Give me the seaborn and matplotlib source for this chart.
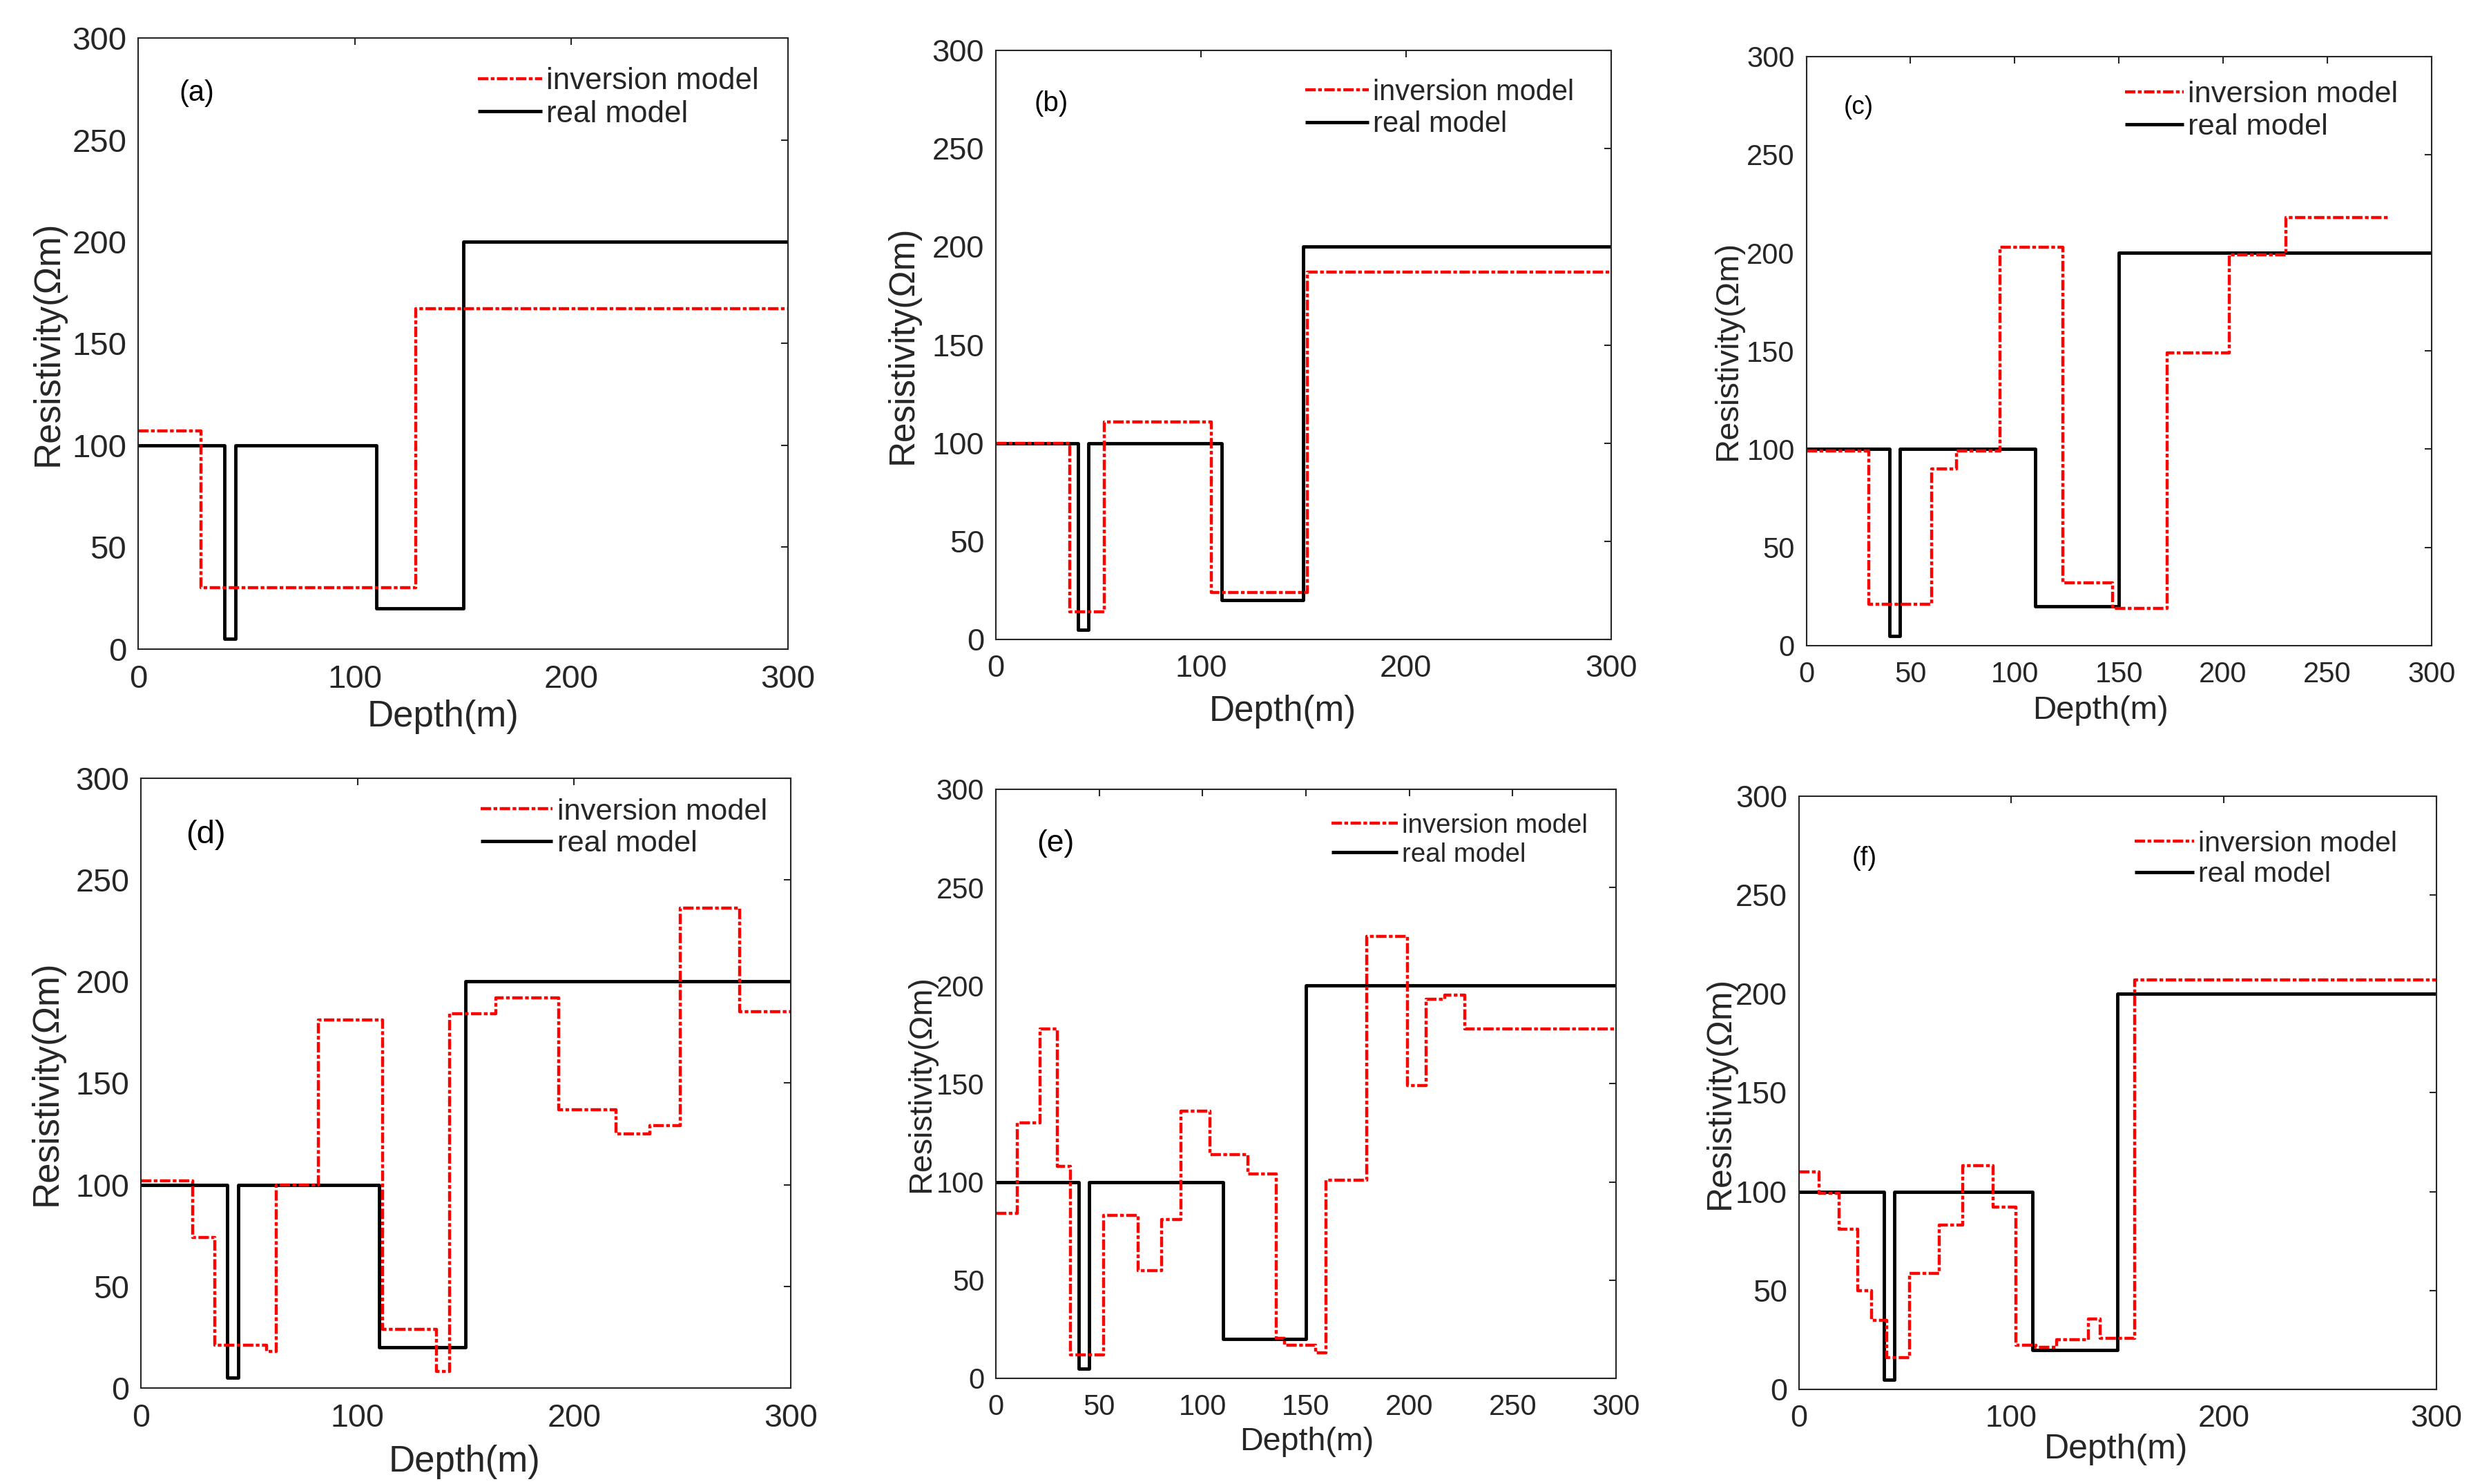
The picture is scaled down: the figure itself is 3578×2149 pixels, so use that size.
import numpy as np
import pandas as pd
import matplotlib
matplotlib.use('Agg')
import matplotlib.pyplot as plt
import seaborn as sns

# real (true) layered model, same in all six panels
real_depth = [0, 40, 45, 110, 150, 300]
real_res = [100, 5, 100, 20, 200, 200]

# inversion results, step boundaries (m) and resistivity (Ohm m)
inv_depth_a = [0, 29, 128, 300]
inv_res_a = [107, 30, 167, 167]

inv_depth_b = [0, 36, 53, 105, 152, 300]
inv_res_b = [100, 14, 111, 24, 187, 187]

inv_depth_c = [0, 30, 60, 72, 93, 123, 147, 173, 203, 230, 280]
inv_res_c = [99, 21, 90, 99, 203, 32, 19, 149, 199, 218, 218]

inv_depth_d = [0, 24, 34, 58, 62.5, 82, 111.5, 136.5, 142.5, 164, 193, 219.5, 235, 249, 276.5, 300]
inv_res_d = [102, 74, 21, 18, 100, 181, 29, 8, 184, 192, 137, 125, 129, 236, 185, 185]

inv_depth_e = [0, 10.3, 21.4, 29.6, 36.2, 52.1, 68.8, 80.3, 89.6, 103.6, 121.8, 135.8, 139.6,
               154.6, 159.6, 179.3, 199, 208, 217, 227, 300]
inv_res_e = [84, 130, 178, 108, 12, 83, 55, 81, 136, 114, 104, 20.5, 16.7,
             12.9, 101, 225, 149, 193, 195, 178, 178]

inv_depth_f = [0, 9.5, 19, 27.7, 34.2, 41.3, 52.2, 66, 77.2, 91.3, 102.2, 111.4, 121.2, 136.2, 141.8, 158, 300]
inv_res_f = [110, 99, 81, 50, 35, 16, 58.5, 83, 113, 92, 22.5, 21.4, 25, 35.7, 26, 207, 207]

panel_names = ['(a)', '(b)', '(c)', '(d)', '(e)', '(f)']
inv_depths = [inv_depth_a, inv_depth_b, inv_depth_c, inv_depth_d, inv_depth_e, inv_depth_f]
inv_ress = [inv_res_a, inv_res_b, inv_res_c, inv_res_d, inv_res_e, inv_res_f]

# layout / styling per panel (not data)
rects = [[0.0559, 0.5626, 0.263, 0.4118],
         [0.403, 0.569, 0.249, 0.397],
         [0.731, 0.565, 0.253, 0.397],
         [0.057, 0.0647, 0.263, 0.411],
         [0.403, 0.0712, 0.251, 0.397],
         [0.728, 0.0637, 0.258, 0.400]]
xstep = [100, 100, 50, 100, 50, 100]
tick_fs = [17, 16.3, 15, 16.8, 15, 16.2]
lab_fs = [19, 18.4, 17, 19, 16.8, 18]
leg_fs = [15.8, 15, 15.6, 15.6, 13.8, 14.8]
let_fs = [15, 14.5, 13.3, 17, 16, 13.8]
let_xy = [(27, 273), (27, 273), (25, 274), (30, 272), (29, 272.5), (30.7, 268.5)]
leg_xy = [(157, 270.7), (151, 270.5), (153, 272.2), (157, 275.5), (162.5, 274), (158, 268.1)]
leg_hl = [2.1, 2.2, 1.95, 2.4, 2.5, 2.1]
ylab_x = [-0.112, -0.124, -0.101, -0.118, -0.096, -0.099]
xlab_xy = [(0.469, -0.083), (0.466, -0.093), (0.471, -0.085),
           (0.498, -0.093), (0.501, -0.082), (0.498, -0.074)]

sns.set_theme(style='white')
plt.rcParams['font.family'] = ['Liberation Sans', 'DejaVu Sans']
plt.rcParams['lines.solid_capstyle'] = 'butt'

dark = '#262626'
fig = plt.figure(figsize=(17.89, 10.745), dpi=200)

for i in range(6):
    ax = fig.add_axes(rects[i])
    real_df = pd.DataFrame({'Depth': real_depth, 'Res': real_res})
    inv_df = pd.DataFrame({'Depth': inv_depths[i], 'Res': inv_ress[i]})

    sns.lineplot(data=real_df, x='Depth', y='Res', ax=ax, sort=False, estimator=None,
                 drawstyle='steps-post', color='black', linewidth=1.75, label='real model')
    sns.lineplot(data=inv_df, x='Depth', y='Res', ax=ax, sort=False, estimator=None,
                 drawstyle='steps-post', color='red', linewidth=1.6,
                 linestyle=(0, (3.4, 0.8, 1.2, 0.8)), label='inversion model')

    ax.set_xlim(0, 300)
    ax.set_ylim(0, 300)
    ax.set_xticks(np.arange(0, 301, xstep[i]))
    ax.set_yticks(np.arange(0, 301, 50))
    ax.tick_params(axis='both', direction='in', length=3.6, width=0.75, color=dark,
                   labelcolor=dark, labelsize=tick_fs[i], top=True, right=True)
    ax.tick_params(axis='x', pad=8)
    ax.tick_params(axis='y', pad=6)
    for sp in ax.spines.values():
        sp.set_color(dark)
        sp.set_linewidth(0.75)
        sp.set_visible(True)

    ax.set_xlabel('Depth(m)', fontsize=lab_fs[i], color=dark)
    ax.set_ylabel('Resistivity(\u03a9m)', fontsize=lab_fs[i], color=dark)
    ax.xaxis.set_label_coords(*xlab_xy[i])
    ax.yaxis.set_label_coords(ylab_x[i], 0.5)

    ax.text(let_xy[i][0], let_xy[i][1], panel_names[i], ha='center', va='center',
            fontsize=let_fs[i], color='black')

    lines = ax.get_lines()
    ax.legend([lines[1], lines[0]], ['inversion model', 'real model'],
              loc='center left', bbox_to_anchor=leg_xy[i], bbox_transform=ax.transData,
              frameon=False, fontsize=leg_fs[i], handlelength=leg_hl[i],
              handletextpad=0.15, labelspacing=0.15, borderpad=0, borderaxespad=0)

fig.savefig('out.png', dpi=200)
